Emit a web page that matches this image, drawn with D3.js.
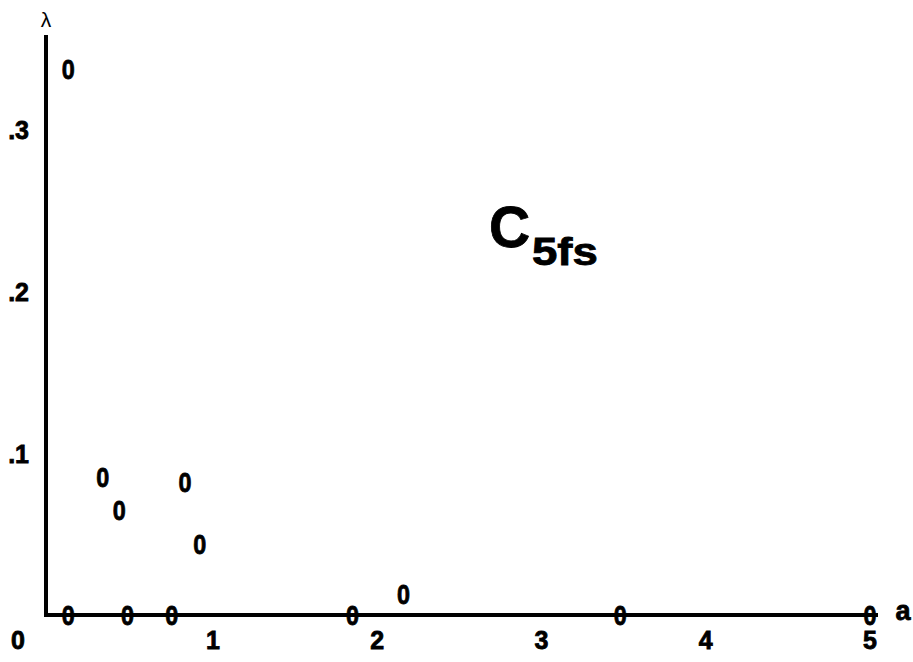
<!DOCTYPE html>
<html>
<head>
<meta charset="utf-8">
<script src="https://cdn.jsdelivr.net/npm/d3@7"></script>
<style>
  body { margin: 0; background: #fff; }
  text { font-family: "Liberation Sans", Arial, sans-serif; fill: #000; }
  .bold { font-weight: bold; stroke: #000; stroke-width: 0.8px; }
</style>
</head>
<body>
<div id="chart"></div>
<script>
"use strict";

// points off the axis (a, lambda)
var aValues = [0.12, 0.33, 0.43, 0.83, 0.92, 2.16];
var lambdaValues = [0.337, 0.085, 0.065, 0.082, 0.044, 0.013];
// points lying on the a axis (lambda = 0)
var axisPoints = [0.12, 0.48, 0.75, 1.85, 3.48, 5.0];

var xTicks = [1, 2, 3, 4, 5];
var yTicks = [0.1, 0.2, 0.3];
var yTickLabels = [".1", ".2", ".3"];

var width = 913;
var height = 662;

var x = d3.scaleLinear().domain([0, 5]).range([48.6, 870]);
var y = d3.scaleLinear().domain([0, 0.1]).range([615, 453]);

var svg = d3.select("#chart")
    .append("svg")
    .attr("width", width)
    .attr("height", height);

// axes lines
svg.append("line")
    .attr("x1", 46).attr("x2", 46)
    .attr("y1", 35).attr("y2", y(0) + 2)
    .attr("stroke", "#000")
    .attr("stroke-width", 4);

svg.append("line")
    .attr("x1", 44).attr("x2", 878)
    .attr("y1", y(0)).attr("y2", y(0))
    .attr("stroke", "#000")
    .attr("stroke-width", 4);

// x tick labels
svg.append("g")
    .selectAll("text")
    .data(xTicks)
    .enter()
    .append("text")
    .attr("class", "bold")
    .attr("x", function(d) { return x(d); })
    .attr("y", 649)
    .attr("text-anchor", "middle")
    .attr("font-size", 25)
    .text(function(d) { return d; });

// origin label
svg.append("text")
    .attr("class", "bold")
    .attr("x", 18)
    .attr("y", 649)
    .attr("text-anchor", "middle")
    .attr("font-size", 25)
    .text("0");

// y tick labels
svg.append("g")
    .selectAll("text")
    .data(yTicks)
    .enter()
    .append("text")
    .attr("class", "bold")
    .attr("x", 29)
    .attr("y", function(d) { return y(d) + 10; })
    .attr("text-anchor", "end")
    .attr("font-size", 25)
    .text(function(d, i) { return yTickLabels[i]; });

// axis names
svg.append("text")
    .attr("x", 46)
    .attr("y", 27)
    .attr("text-anchor", "middle")
    .attr("font-family", "DejaVu Sans")
    .attr("font-size", 21)
    .text("\u03bb");

svg.append("text")
    .attr("class", "bold")
    .attr("x", 903)
    .attr("y", 620)
    .attr("text-anchor", "middle")
    .attr("font-size", 27)
    .text("a");

// markers drawn as "0" glyphs
var points = aValues.map(function(a, i) { return { a: a, l: lambdaValues[i] }; })
    .concat(axisPoints.map(function(a) { return { a: a, l: 0 }; }));

svg.append("g")
    .selectAll("text")
    .data(points)
    .enter()
    .append("text")
    .attr("class", "bold")
    .attr("x", function(d) { return x(d.a); })
    .attr("y", function(d) { return y(d.l); })
    .attr("dy", "0.36em")
    .attr("text-anchor", "middle")
    .attr("font-size", 28)
    .attr("textLength", 13)
    .attr("lengthAdjust", "spacingAndGlyphs")
    .text("0");

// title: C with subscript 5fs
svg.append("text")
    .attr("class", "bold")
    .attr("x", 489)
    .attr("y", 247)
    .attr("font-size", 57)
    .text("C");
svg.append("text")
    .attr("class", "bold")
    .attr("transform", "translate(532,265) scale(1.2,1)")
    .attr("font-size", 38)
    .text("5fs");
</script>
</body>
</html>
